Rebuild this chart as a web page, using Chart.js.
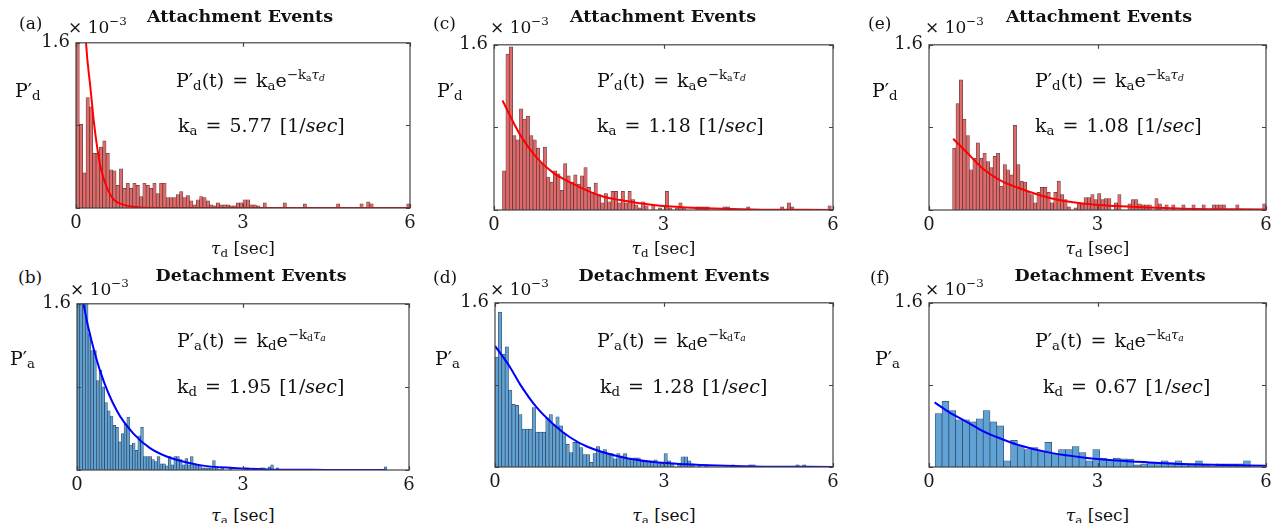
<!DOCTYPE html>
<html>
<head>
<meta charset="utf-8">
<title>Dwell time histograms</title>
<script src="https://cdn.jsdelivr.net/npm/chart.js@4.4.1/dist/chart.umd.min.js"></script>
<style>
  html, body { margin:0; padding:0; background:#fff; }
  #fig { position:relative; width:1279px; height:523px; overflow:hidden; font-family:'DejaVu Serif', serif; color:#111; }
  .box { position:absolute; }
  .txt { position:absolute; white-space:nowrap; line-height:1; }
  .title { font-weight:bold; font-size:17.5px; }
  .letter { font-size:17px; }
  .expo { font-size:17px; }
  .ylab { font-size:19px; }
  .eq { font-size:19px; word-spacing:2px; }
  .xlab { font-size:17px; }
  sub { font-size:70%; vertical-align:-0.3em; line-height:0; }
  sup { font-size:70%; vertical-align:0.6em; line-height:0; }
</style>
</head>
<body>
<div id="fig"></div>
<script>
// values are P' in units of 1e-3, bins in sec
var xTickLabels = ["0", "3", "6"]
var yTickLabels = ["", "", "1.6"]

// (a) attachment, bin start / width
var binA = [0, 0.06]
var histA = [
  2.00,0.81,0.34,1.07,0.98,0.53,0.53,0.59,0.65,0.53,
  0.37,0.36,0.22,0.38,0.19,0.24,0.19,0.24,0.22,0.11,
  0.24,0.22,0.19,0.24,0.14,0.24,0.24,0.10,0.10,0.10,
  0.13,0.16,0.10,0.12,0.07,0.03,0.08,0.11,0.10,0.07,
  0.03,0.02,0.05,0.03,0.03,0.03,0.02,0.02,0.05,0.05,
  0.08,0.08,0.03,0.03,0.02,0,0.05,0,0,0,
  0,0,0.05,0,0,0,0,0,0.04,0,
  0,0,0,0,0,0,0,0,0.04,0,
  0,0,0,0,0,0.04,0,0.06,0.04,0,
  0,0,0,0,0,0,0,0,0,0.04]
var fitTA = [0.15,0.18,0.26,0.32,0.38,0.44,0.56,0.68,0.86,1.16,2,3,4,5,6]
var fitPA = [1.95,1.6,1.16,0.84,0.59,0.40,0.19,0.08,0.03,0.006,0,0,0,0,0]

// (b) detachment
var binB = [0, 0.05]
var histB = [
  2.20,2.00,1.75,1.65,1.31,1.15,1.15,0.86,0.96,0.80,
  0.65,0.57,0.52,0.43,0.41,0.27,0.35,0.44,0.51,0.24,
  0.26,0.19,0.33,0.41,0.13,0.13,0.13,0.10,0.08,0.13,
  0.06,0.06,0.04,0.13,0.05,0.13,0.13,0.10,0.05,0.11,
  0.05,0.13,0.05,0.05,0.04,0.02,0.02,0.02,0.02,0.09,
  0.02,0.01,0.02,0,0,0.02,0,0,0,0,
  0.02,0.02,0,0,0,0,0.02,0.02,0,0.03,
  0.05,0,0.02,0,0,0,0,0,0,0,
  0,0,0,0,0,0,0,0,0,0,
  0,0,0,0,0,0,0,0,0,0,
  0,0,0,0,0,0,0,0,0,0,
  0,0.03,0,0,0,0,0,0,0,0]
var fitTB = [0.10,0.21,0.42,0.72,1.02,1.32,1.62,2.22,2.83,3.43,4.5,5.58]
var fitPB = [1.64,1.36,0.95,0.57,0.35,0.21,0.13,0.047,0.019,0.006,0.001,0]

// (c) attachment
var binC = [0.15, 0.06]
var histC = [
  0.38,1.51,1.58,0.72,0.68,0.98,0.88,0.91,0.72,0.68,
  0.60,0.45,0.61,0.32,0.27,0.38,0.35,0.19,0.45,0.33,
  0.27,0.34,0.25,0.33,0.41,0.22,0.17,0.26,0.15,0.07,
  0.16,0.08,0.18,0.18,0.07,0.18,0.07,0.18,0.10,0.05,
  0.02,0.08,0.04,0,0.05,0,0.02,0,0.18,0.02,
  0,0.02,0.07,0.02,0,0,0,0.03,0.03,0.03,
  0.03,0,0,0,0,0.03,0.03,0,0,0,
  0,0,0.03,0,0,0,0,0,0,0,
  0,0,0.03,0,0.07,0.03,0,0,0,0,
  0,0,0,0,0,0,0.04,0]
var fitTC = [0.15,0.46,0.75,1.05,1.34,1.64,1.93,2.23,2.82,3.4,4.58,6]
var fitPC = [1.06,0.73,0.51,0.36,0.27,0.19,0.13,0.096,0.048,0.025,0.006,0.001]

// (d) detachment
var binD = [0, 0.06]
var histD = [
  1.07,1.51,1.10,1.17,0.75,0.61,0.60,0.51,0.37,0.37,
  0.37,0.58,0.34,0.34,0.34,0.48,0.51,0.41,0.49,0.40,
  0.33,0.22,0.14,0.24,0.24,0.19,0.12,0.12,0.045,0.13,
  0.20,0.15,0.17,0.12,0.13,0.08,0.13,0.11,0.13,0.08,
  0.08,0.09,0.09,0.06,0.06,0.06,0.06,0.07,0.045,0.04,
  0.13,0.06,0.03,0,0.03,0.10,0.10,0.06,0.03,0,
  0.02,0,0.02,0,0,0,0,0,0,0,
  0.02,0,0,0,0,0.02,0.02,0,0,0,
  0,0,0,0,0,0,0,0,0,0.02,
  0,0.02,0,0,0,0,0,0,0,0]
var fitTD = [0,0.27,0.44,0.74,1.03,1.33,1.63,2.22,2.81,3.4,4.58,6]
var fitPD = [1.18,0.97,0.81,0.58,0.42,0.29,0.20,0.10,0.048,0.026,0.006,0.001]

// (e) attachment
var binE = [0.42, 0.06]
var histE = [
  0.60,1.03,1.26,0.88,0.72,0.39,0.50,0.65,0.50,0.55,
  0.47,0.41,0.52,0.55,0.23,0.44,0.39,0.34,0.82,0.44,
  0.28,0.27,0.18,0.15,0.07,0.17,0.22,0.22,0.17,0.07,
  0.17,0.28,0.15,0.10,0.03,0,0.02,0.06,0.06,0.12,
  0.12,0.15,0.10,0.16,0.10,0.11,0.11,0,0.07,0.15,
  0,0,0.06,0.10,0.10,0.06,0.05,0.05,0.05,0,
  0.11,0.06,0,0.05,0,0.05,0,0,0.05,0,
  0,0.05,0,0,0.05,0,0,0.05,0.05,0.05,
  0.05,0,0,0,0.05,0,0,0,0,0,
  0,0,0.06]
var fitTE = [0.43,0.67,0.96,1.26,1.56,2.15,2.74,3.34,4.53,6]
var fitPE = [0.69,0.56,0.40,0.29,0.22,0.117,0.063,0.038,0.013,0.006]

// (f) detachment
var binF = [0.11, 0.122]
var histF = [
  0.52,0.64,0.55,0.46,0.46,0.44,0.47,0.55,0.44,0.40,
  0.06,0.26,0.20,0.17,0.19,0.15,0.24,0.12,0.17,0.17,
  0.20,0.14,0.06,0.17,0.086,0.07,0.086,0.08,0.077,0.02,
  0.03,0.04,0.04,0.06,0.04,0.06,0.03,0.03,0.06,0.02,
  0.01,0.03,0.03,0.03,0.03,0.06,0]
var fitTF = [0.10,0.37,0.67,0.96,1.26,1.56,2.15,2.74,3.34,3.93,4.53,6]
var fitPF = [0.63,0.53,0.44,0.35,0.28,0.22,0.14,0.093,0.064,0.045,0.029,0.013]

var rates = ["5.77","1.95","1.18","1.28","1.08","0.67"]
var letters = ["(a)","(b)","(c)","(d)","(e)","(f)"]
var titles = ["Attachment Events","Detachment Events"]

// plot box of each panel: left, top, width, height
var rects = [
  [76, 40, 334, 168],
  [77, 301, 332, 169],
  [494, 42, 339, 168],
  [495, 300, 338, 167],
  [929, 42, 337, 168],
  [929, 300, 337, 167]
]
// text anchors: letter x, expo x, ylabel x, eq1 x, eq2 x, title center x
var textX = [
  [19, 68, 15, 176, 178, 240],
  [18, 70, 10, 177, 177, 251],
  [433, 490, 437, 597, 597, 663],
  [433, 490, 435, 597, 600, 674],
  [868, 925, 872, 1035, 1035, 1099],
  [870, 925, 875, 1035, 1043, 1110]
]
// vertical centers per row: letter, title, expo, ylabel, eq1, eq2, xtitle
var textY = [
  [23, 17, 27, 90, 80, 125, 248],
  [277, 276, 289, 358, 340, 386, 515]
]

var fig = document.getElementById('fig')
Chart.defaults.font.family = "'DejaVu Serif', serif"

// matlab style box with inward ticks
var boxPlugin = {
  id: 'matlabBox',
  afterDraw: function(chart){
    var a = chart.chartArea, c = chart.ctx
    var sx = chart.scales.x, sy = chart.scales.y
    c.save()
    c.strokeStyle = '#444'
    c.lineWidth = 1.2
    c.beginPath()
    sx.ticks.forEach(function(t){
      var px = Math.round(sx.getPixelForValue(t.value)) + 0.5
      c.moveTo(px, a.bottom); c.lineTo(px, a.bottom - 4)
      c.moveTo(px, a.top); c.lineTo(px, a.top + 4)
    })
    sy.ticks.forEach(function(t){
      var py = Math.round(sy.getPixelForValue(t.value)) + 0.5
      c.moveTo(a.left, py); c.lineTo(a.left + 4, py)
      c.moveTo(a.right, py); c.lineTo(a.right - 4, py)
    })
    c.stroke()
    c.strokeRect(a.left, a.top, a.right - a.left, a.bottom - a.top)
    c.restore()
  }
}

function addText(html, x, y, cls, center){
  var el = document.createElement('div')
  el.className = 'txt ' + cls
  el.innerHTML = html
  el.style.left = x + 'px'
  el.style.top = y + 'px'
  el.style.transform = center ? 'translate(-50%,-50%)' : 'translateY(-50%)'
  fig.appendChild(el)
}

function drawPanel(i, bin, hist, fitT, fitP){
  var r = rects[i]
  var attach = (i % 2 == 0)
  var padL = 50, padT = 14, padR = 16, padB = 34

  var wrap = document.createElement('div')
  wrap.className = 'box'
  wrap.style.left = (r[0] - padL) + 'px'
  wrap.style.top = (r[1] - padT) + 'px'
  var cv = document.createElement('canvas')
  cv.width = r[2] + padL + padR
  cv.height = r[3] + padT + padB
  cv.style.width = cv.width + 'px'
  cv.style.height = cv.height + 'px'
  wrap.appendChild(cv)
  fig.appendChild(wrap)

  var bars = hist.map(function(v, k){
    return {x: bin[0] + (k + 0.5) * bin[1], y: v}
  })
  var fit = fitT.map(function(t, k){
    return {x: t, y: fitP[k]}
  })

  new Chart(cv, {
    type: 'bar',
    data: {
      datasets: [
        {
          type: 'line', data: fit, order: 0,
          borderColor: attach ? '#ff0000' : '#0000ff',
          borderWidth: 2, pointRadius: 0, fill: false,
          cubicInterpolationMode: 'monotone'
        },
        {
          type: 'bar', data: bars, order: 1,
          backgroundColor: attach ? '#e06a6a' : '#5fa2d5',
          borderColor: attach ? 'rgba(70,30,30,0.85)' : 'rgba(25,45,70,0.85)',
          borderWidth: 0.7,
          barPercentage: 1, categoryPercentage: 1
        }
      ]
    },
    options: {
      responsive: false,
      animation: false,
      events: [],
      layout: {padding: {top: padT, right: padR, left: 0, bottom: 0}},
      plugins: {legend: {display: false}, tooltip: {enabled: false}},
      scales: {
        x: {
          type: 'linear', min: 0, max: 6, offset: false,
          grid: {display: false, drawTicks: false},
          border: {display: false},
          ticks: {
            stepSize: 3, padding: 5, maxRotation: 0, autoSkip: false,
            color: '#1a1a1a', font: {size: 18},
            callback: function(v, k){ return xTickLabels[k] }
          },
          afterFit: function(s){ s.height = padB }
        },
        y: {
          min: 0, max: 1.6,
          grid: {display: false, drawTicks: false},
          border: {display: false},
          ticks: {
            stepSize: 0.8, padding: 6,
            color: '#1a1a1a', font: {size: 18},
            callback: function(v, k){ return yTickLabels[k] }
          },
          afterFit: function(s){ s.width = padL }
        }
      }
    },
    plugins: [boxPlugin]
  })

  // text around the plot
  var tx = textX[i], ty = textY[i % 2]
  var s1 = attach ? 'd' : 'a', s2 = attach ? 'a' : 'd'
  addText(letters[i], tx[0], ty[0], 'letter', false)
  addText(titles[i % 2], tx[5], ty[1], 'title', true)
  addText('&times; 10<sup>&minus;3</sup>', tx[1], ty[2], 'expo', false)
  addText('P&prime;<sub>' + s1 + '</sub>', tx[2], ty[3], 'ylab', false)
  addText('P&prime;<sub>' + s1 + '</sub>(t) = k<sub>' + s2 + '</sub>e<sup>&minus;k<sub>' + s2 + '</sub><i>&tau;<sub>' + s1 + '</sub></i></sup>', tx[3], ty[4], 'eq', false)
  addText('k<sub>' + s2 + '</sub> = ' + rates[i] + ' [1/<i>sec</i>]', tx[4], ty[5], 'eq', false)
  addText('<i>&tau;</i><sub>' + s1 + '</sub> [sec]', r[0] + r[2] / 2, ty[6], 'xlab', true)
}

drawPanel(0, binA, histA, fitTA, fitPA)
drawPanel(1, binB, histB, fitTB, fitPB)
drawPanel(2, binC, histC, fitTC, fitPC)
drawPanel(3, binD, histD, fitTD, fitPD)
drawPanel(4, binE, histE, fitTE, fitPE)
drawPanel(5, binF, histF, fitTF, fitPF)
</script>
</body>
</html>
